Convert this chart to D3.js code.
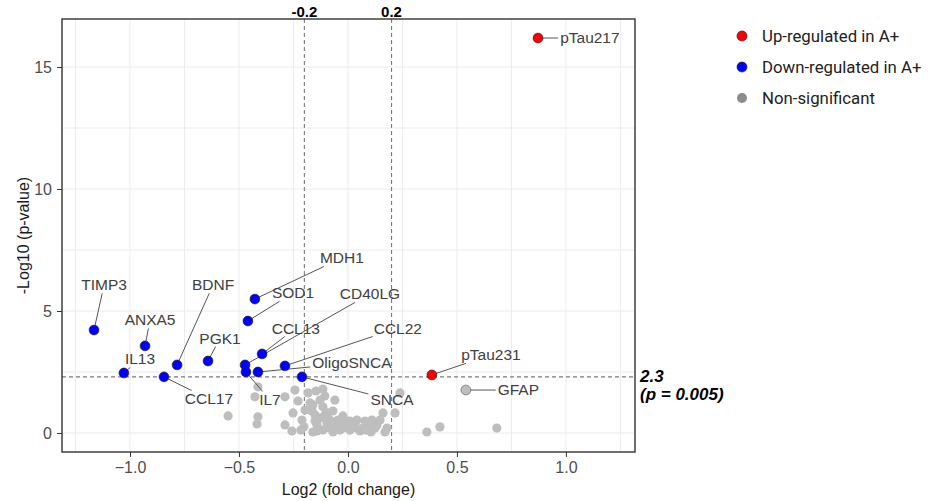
<!DOCTYPE html>
<html>
<head>
<meta charset="utf-8">
<script src="https://cdn.jsdelivr.net/npm/d3@7"></script>
<style>
  body { margin: 0; background: #fff; }
  svg { display: block; }
</style>
</head>
<body>
<svg id="chart" width="928" height="501"></svg>
<script>
// labelled proteins
var genes = ["pTau217", "pTau231", "GFAP", "TIMP3", "ANXA5", "IL13", "BDNF", "PGK1", "CCL17",
             "MDH1", "SOD1", "CCL13", "CD40LG", "CCL22", "OligoSNCA", "IL7", "SNCA"];
var geneFC = [0.872, 0.385, 0.541, -1.165, -0.931, -1.028, -0.784, -0.642, -0.844,
              -0.427, -0.459, -0.394, -0.472, -0.289, -0.413, -0.468, -0.211];
var geneLogP = [16.19, 2.38, 1.76, 4.22, 3.57, 2.46, 2.79, 2.95, 2.30,
                5.49, 4.59, 3.24, 2.79, 2.75, 2.50, 2.50, 2.30];
var geneGroup = ["up", "up", "ns", "down", "down", "down", "down", "down", "down",
                 "down", "down", "down", "down", "down", "down", "down", "down"];
// where the repelled labels ended up (data units)
var labelFC = [1.110, 0.656, 0.782, -1.119, -0.908, -0.954, -0.619, -0.587, -0.638,
               -0.028, -0.252, -0.239, 0.101, 0.229, 0.018, -0.358, 0.202];
var labelLogP = [16.19, 3.20, 1.76, 6.07, 4.63, 3.03, 6.07, 3.89, 1.39,
                 7.17, 5.74, 4.30, 5.70, 4.30, 2.87, 1.35, 1.35];

// unlabelled, non-significant proteins
var nsFC = [-0.550, -0.413, -0.427, -0.413, -0.417, -0.289, -0.243, -0.229, -0.252, -0.289,
            -0.257, -0.211, -0.216, -0.174, -0.165, -0.151, -0.142, -0.183, -0.147, -0.115,
            -0.106, -0.060, -0.161, -0.115, -0.151, -0.106, -0.069, -0.023, 0.009, 0.041,
            0.078, 0.133, 0.161, 0.216, 0.239, 0.170, 0.362, 0.422, 0.683, -0.161,
            -0.115, -0.083, -0.050, -0.023, 0.009, 0.055, 0.092, 0.106, -0.142, -0.028,
            0.023, 0.179, 0.069, -0.083, -0.046, -0.092, -0.197, -0.128, -0.014, 0.110,
            0.041, -0.069, 0.124, -0.202, -0.128, 0.000, 0.083, -0.037, -0.096, 0.147];
var nsLogP = [0.70, 1.89, 1.48, 0.66, 0.37, 1.48, 1.76, 1.31, 0.82, 0.33,
              0.08, 0.53, 0.12, 1.23, 0.90, 0.49, 0.08, 1.64, 1.72, 1.80,
              1.52, 1.35, 1.15, 1.07, 0.74, 0.74, 0.90, 0.70, 0.49, 0.53,
              0.49, 0.33, 0.82, 0.82, 1.64, 0.04, 0.04, 0.25, 0.20, 0.04,
              0.12, 0.20, 0.33, 0.20, 0.12, 0.08, 0.29, 0.04, 0.33, 0.41,
              0.29, 0.20, 0.20, 0.53, 0.53, 0.82, 0.94, 1.35, 0.53, 0.53,
              0.20, 0.04, 0.20, 0.25, 0.61, 0.33, 0.12, 0.12, 0.41, 0.53];

var xTicks = [-1.0, -0.5, 0.0, 0.5, 1.0];
var xMinor = [-1.25, -0.75, -0.25, 0.25, 0.75, 1.25];
var yTicks = [0, 5, 10, 15];
var yMinor = [2.5, 7.5, 12.5];
var fcCuts = [-0.2, 0.2];
var pCut = 2.3;
var pCutText = ["2.3", "(p = 0.005)"];
var groups = ["up", "down", "ns"];
var groupNames = ["Up-regulated in A+", "Down-regulated in A+", "Non-significant"];

var fill = { up: "#ff0000", down: "#0000ff", ns: "#bebebe" };
var legendFill = { up: "#ff0000", down: "#0000ff", ns: "#8c8c8c" };

var svg = d3.select("#chart");
var pLeft = 62, pRight = 635, pTop = 19, pBottom = 452;

var x = d3.scaleLinear().domain([-1.312, 1.317]).range([pLeft, pRight]);
var y = d3.scaleLinear().domain([-0.78, 16.97]).range([pBottom, pTop]);

var panel = svg.append("g").attr("class", "panel");

// grid
panel.selectAll("line.vgrid").data(xTicks.concat(xMinor)).enter().append("line")
    .attr("x1", function(d) { return x(d); }).attr("x2", function(d) { return x(d); })
    .attr("y1", pTop).attr("y2", pBottom)
    .attr("stroke", "#ececec").attr("stroke-width", 1);
panel.selectAll("line.hgrid").data(yTicks.concat(yMinor)).enter().append("line")
    .attr("y1", function(d) { return y(d); }).attr("y2", function(d) { return y(d); })
    .attr("x1", pLeft).attr("x2", pRight)
    .attr("stroke", "#ececec").attr("stroke-width", 1);

// threshold lines
panel.selectAll("line.vcut").data(fcCuts).enter().append("line")
    .attr("x1", function(d) { return x(d); }).attr("x2", function(d) { return x(d); })
    .attr("y1", pTop).attr("y2", pBottom)
    .attr("stroke", "#7a7a7a").attr("stroke-width", 1.1).attr("stroke-dasharray", "4,3");
panel.append("line")
    .attr("x1", pLeft).attr("x2", pRight)
    .attr("y1", y(pCut)).attr("y2", y(pCut))
    .attr("stroke", "#7a7a7a").attr("stroke-width", 1.1).attr("stroke-dasharray", "4,3");

// grey background points
panel.selectAll("circle.ns").data(nsFC).enter().append("circle")
    .attr("cx", function(d) { return x(d); })
    .attr("cy", function(d, i) { return y(nsLogP[i]); })
    .attr("r", 4.6)
    .attr("fill", fill.ns);

// segments under the points, labels measured first
var segG = panel.append("g").attr("class", "segments");
var ptG = panel.append("g").attr("class", "points");
var labelG = svg.append("g").attr("class", "labels");

genes.forEach(function(name, i) {
    var px = x(geneFC[i]), py = y(geneLogP[i]);
    var lx = x(labelFC[i]), ly = y(labelLogP[i]);
    var t = labelG.append("text")
        .attr("x", lx).attr("y", ly).attr("dy", "0.35em")
        .attr("text-anchor", "middle")
        .attr("font-family", "'Liberation Sans', Arial, sans-serif")
        .attr("font-size", 15.5)
        .attr("fill", "#404040")
        .text(name);
    var bb = t.node().getBBox();
    var pad = 2;
    var x0 = bb.x - pad, x1 = bb.x + bb.width + pad;
    var y0 = bb.y + 2 - pad, y1 = bb.y + bb.height - 2 + pad;
    // where the point->centre line enters the label box
    var dx = lx - px, dy = ly - py;
    var tx = Math.max(dx !== 0 ? (dx > 0 ? (x0 - px) / dx : (x1 - px) / dx) : -Infinity,
                      dy !== 0 ? (dy > 0 ? (y0 - py) / dy : (y1 - py) / dy) : -Infinity);
    var s = Math.max(0, Math.min(1, tx));
    var ex = px + dx * s, ey = py + dy * s;
    var len = Math.sqrt((ex - px) * (ex - px) + (ey - py) * (ey - py));
    if (len > 8) {
        segG.append("line")
            .attr("x1", px).attr("y1", py).attr("x2", ex).attr("y2", ey)
            .attr("stroke", "#555").attr("stroke-width", 1);
    }
    ptG.append("circle")
        .attr("cx", px).attr("cy", py).attr("r", 4.9)
        .attr("fill", fill[geneGroup[i]])
        .attr("stroke", geneGroup[i] === "ns" ? "#666" : "#222")
        .attr("stroke-width", 0.7);
});

// border
svg.append("rect")
    .attr("x", pLeft).attr("y", pTop)
    .attr("width", pRight - pLeft).attr("height", pBottom - pTop)
    .attr("fill", "none").attr("stroke", "#333").attr("stroke-width", 1.4);

// axes
var xAxis = svg.append("g").attr("transform", "translate(0," + pBottom + ")")
    .call(d3.axisBottom(x).tickValues(xTicks).tickFormat(d3.format(".1f")).tickSize(5).tickPadding(4.5));
var yAxis = svg.append("g").attr("transform", "translate(" + pLeft + ",0)")
    .call(d3.axisLeft(y).tickValues(yTicks).tickFormat(d3.format("d")).tickSize(5).tickPadding(5));
[xAxis, yAxis].forEach(function(a) {
    a.select(".domain").remove();
    a.selectAll(".tick line").attr("stroke", "#333");
    a.selectAll(".tick text")
        .attr("font-family", "'Liberation Sans', Arial, sans-serif")
        .attr("font-size", 16).attr("fill", "#4d4d4d");
});

svg.append("text")
    .attr("x", (pLeft + pRight) / 2).attr("y", 495)
    .attr("text-anchor", "middle")
    .attr("font-family", "'Liberation Sans', Arial, sans-serif")
    .attr("font-size", 16).attr("fill", "#1a1a1a")
    .text("Log2 (fold change)");
svg.append("text")
    .attr("transform", "translate(29," + ((pTop + pBottom) / 2) + ") rotate(-90)")
    .attr("text-anchor", "middle")
    .attr("font-family", "'Liberation Sans', Arial, sans-serif")
    .attr("font-size", 16).attr("fill", "#1a1a1a")
    .text("-Log10 (p-value)");

// threshold annotations
svg.selectAll("text.fccut").data(fcCuts).enter().append("text")
    .attr("x", function(d) { return x(d); }).attr("y", 17)
    .attr("text-anchor", "middle")
    .attr("font-family", "'Liberation Sans', Arial, sans-serif")
    .attr("font-size", 15).attr("font-weight", "bold").attr("fill", "#000")
    .text(function(d) { return d.toFixed(1); });
svg.selectAll("text.pcut").data(pCutText).enter().append("text")
    .attr("x", 640).attr("y", function(d, i) { return 382 + i * 18; })
    .attr("font-family", "'Liberation Sans', Arial, sans-serif")
    .attr("font-size", 17).attr("font-weight", "bold").attr("font-style", "italic")
    .attr("fill", "#000")
    .text(function(d) { return d; });

// legend
var legend = svg.append("g").attr("transform", "translate(742,36)");
var li = legend.selectAll("g").data(groups).enter().append("g")
    .attr("transform", function(d, i) { return "translate(0," + (i * 31) + ")"; });
li.append("circle").attr("r", 5)
    .attr("fill", function(d) { return legendFill[d]; })
    .attr("stroke", function(d) { return d === "ns" ? "none" : "#222"; })
    .attr("stroke-width", 0.7);
li.append("text")
    .attr("x", 20).attr("dy", "0.35em")
    .attr("font-family", "Roboto, sans-serif")
    .attr("font-size", 16.8).attr("fill", "#222")
    .text(function(d, i) { return groupNames[i]; });
</script>
</body>
</html>
